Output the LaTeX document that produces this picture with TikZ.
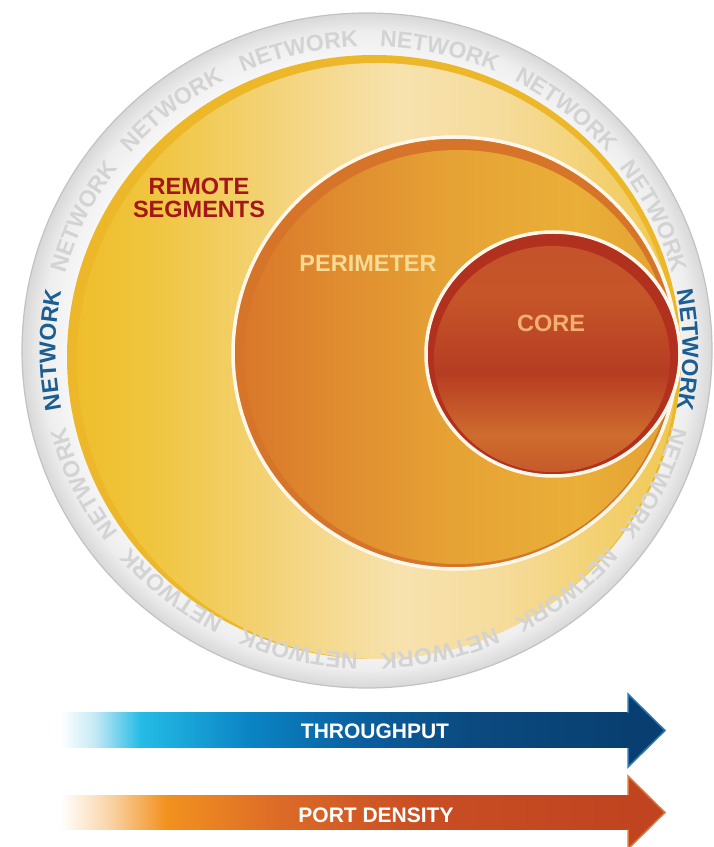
\documentclass[tikz,border=0pt]{standalone}
\usepackage{fontspec}
\setmainfont{Liberation Sans}
\usetikzlibrary{decorations.text}

% palette
\definecolor{ring1}{HTML}{F7F7F7}
\definecolor{ring2}{HTML}{EEEEEE}
\definecolor{ring3}{HTML}{D8D8D8}
\definecolor{ringedge}{HTML}{C2C2C2}
\definecolor{netblue}{HTML}{1C5E92}
\definecolor{netgray}{HTML}{D3D3D3}
\definecolor{remoterim}{HTML}{ECB82A}
\definecolor{rs1}{HTML}{EEBE2C}
\definecolor{rs2}{HTML}{F0C53E}
\definecolor{rs3}{HTML}{F4D684}
\definecolor{rs4}{HTML}{F7E2AE}
\definecolor{rs5}{HTML}{F6DC9C}
\definecolor{rs6}{HTML}{F0C850}
\definecolor{peririm}{HTML}{D6752A}
\definecolor{p1}{HTML}{D9782A}
\definecolor{p2}{HTML}{DF8A2F}
\definecolor{p3}{HTML}{E6A235}
\definecolor{p4}{HTML}{EAAF38}
\definecolor{p5}{HTML}{E4A034}
\definecolor{corerim}{HTML}{B1301E}
\definecolor{c1}{HTML}{C65A2A}
\definecolor{c2}{HTML}{CF6C2E}
\definecolor{c4}{HTML}{B63C22}
\definecolor{c6}{HTML}{C65629}
\definecolor{c7}{HTML}{C4522A}
\definecolor{edgewhite}{HTML}{FFF8EA}
\definecolor{remotered}{HTML}{A3161A}
\definecolor{perimcol}{HTML}{F7DB95}
\definecolor{corecol}{HTML}{F2B070}
\definecolor{tp1}{HTML}{C4E9F5}
\definecolor{tp2}{HTML}{25BCE6}
\definecolor{tp3}{HTML}{0A84C4}
\definecolor{tp4}{HTML}{0A5F9F}
\definecolor{tp5}{HTML}{0B4A80}
\definecolor{tp6}{HTML}{083F70}
\definecolor{tphead}{HTML}{2C7AB6}
\definecolor{pd1}{HTML}{F9D3A6}
\definecolor{pd2}{HTML}{F2921F}
\definecolor{pd3}{HTML}{DC6A27}
\definecolor{pd4}{HTML}{C94E24}
\definecolor{pd5}{HTML}{C0441F}
\definecolor{pdhead}{HTML}{E07A3C}

% shadings (path bounding box spans 25bp..75bp)
\pgfdeclareradialshading{ringshade}{\pgfpointorigin}{color(0bp)=(white); color(21.5bp)=(ring1); color(23.6bp)=(ring2); color(25bp)=(ring3); color(50bp)=(ring3)}
\pgfdeclarehorizontalshading{remoteshade}{100bp}{color(0bp)=(rs1); color(25bp)=(rs1); color(31.1bp)=(rs2); color(43.6bp)=(rs3); color(51.9bp)=(rs4); color(60.25bp)=(rs5); color(75bp)=(rs6); color(100bp)=(rs6)}
\pgfdeclarehorizontalshading{perishade}{100bp}{color(0bp)=(p1); color(25bp)=(p1); color(35bp)=(p2); color(49bp)=(p3); color(64bp)=(p4); color(75bp)=(p5); color(100bp)=(p5)}
\pgfdeclareverticalshading{coreshade}{100bp}{color(0bp)=(c1); color(25bp)=(c1); color(33bp)=(c2); color(47bp)=(c4); color(64bp)=(c6); color(75bp)=(c7); color(100bp)=(c7)}

\newcommand{\netfont}{\fontsize{23}{23}\selectfont\bfseries}
\tikzset{
  zonelabel/.style={font=\fontsize{23.5}{23}\selectfont\bfseries, align=center, inner sep=0pt},
  arrowlabel/.style={font=\fontsize{21}{21}\selectfont\bfseries, text=white, inner sep=0pt},
  whiteedge/.style={draw=edgewhite, line width=3.5pt},
}

\begin{document}
\begin{tikzpicture}[x=1pt,y=1pt]
\useasboundingbox (0,0) rectangle (714,847);
\clip (0,0) rectangle (714,847);

% outer network ring
\shadedraw[shading=ringshade, draw=ringedge, line width=1.2pt]
  (367,496.5) ellipse[x radius=345, y radius=337.5];

% remote segments disc
\fill[remoterim] (374,490) ellipse[x radius=307, y radius=302];
\shade[shading=remoteshade] (377,486) ellipse[x radius=300, y radius=298];

% perimeter disc
\filldraw[fill=peririm, whiteedge] (455,494) ellipse[x radius=222, y radius=216];
\shade[shading=perishade] (458,490) ellipse[x radius=214, y radius=207];

% core disc
\filldraw[fill=corerim, whiteedge] (553,493) ellipse[x radius=127, y radius=122];
\shade[shading=coreshade] (552,488) ellipse[x radius=118, y radius=113];

% zone labels
\node[zonelabel, text=remotered] (remote) at (199,649) {REMOTE\\SEGMENTS};
\node[zonelabel, text=perimcol] (perimeter) at (368,584) {PERIMETER};
\node[zonelabel, text=corecol] (core) at (551,524) {CORE};

% words running clockwise round the ring
\begin{scope}[shift={(369,497)}]
\foreach \ang/\col in {0/netblue, 25.714/netgray, 51.429/netgray, 77.143/netgray,
    102.857/netgray, 128.571/netgray, 154.286/netgray, 180/netblue,
    205.714/netgray, 231.429/netgray, 257.143/netgray, 282.857/netgray,
    308.571/netgray, 334.286/netgray} {
  \pgfmathsetmacro\aA{\ang+14}
  \pgfmathsetmacro\aB{\ang-14}
  \path[decorate, decoration={text along path, text align=center,
      text={|\netfont\color{\col}|NETWORK}}]
    (\aA:313.5 and 303.5) arc[start angle=\aA, end angle=\aB, x radius=313.5, y radius=303.5];
}
\end{scope}

% throughput arrow
\shade[left color=white, right color=tp1] (60,99) rectangle (95.5,134);
\shade[left color=tp1, right color=tp2] (95,99) rectangle (140.5,134);
\shade[left color=tp2, right color=tp3] (140,99) rectangle (250.5,134);
\shade[left color=tp3, right color=tp4] (250,99) rectangle (360.5,134);
\shade[left color=tp4, right color=tp5] (360,99) rectangle (470.5,134);
\shade[left color=tp5, right color=tp6] (470,99) rectangle (629,134);
\fill[tp6] (628,153) -- (665,116.5) -- (628,80) -- cycle;
\draw[tphead, line width=1.5pt, line join=miter]
  (628,134) -- (628,153) -- (665,116.5) -- (628,80) -- (628,99);
\node[arrowlabel] (throughput) at (375,116) {THROUGHPUT};

% port density arrow
\shade[left color=white, right color=pd1] (60,17.5) rectangle (110.5,51.5);
\shade[left color=pd1, right color=pd2] (110,17.5) rectangle (165.5,51.5);
\shade[left color=pd2, right color=pd3] (165,17.5) rectangle (280.5,51.5);
\shade[left color=pd3, right color=pd4] (280,17.5) rectangle (420.5,51.5);
\shade[left color=pd4, right color=pd5] (420,17.5) rectangle (629,51.5);
\fill[pd5] (628,71) -- (665,34.5) -- (628,-2) -- cycle;
\draw[pdhead, line width=1.5pt, line join=miter]
  (628,51.5) -- (628,71) -- (665,34.5) -- (628,-2) -- (628,17.5);
\node[arrowlabel] (portdensity) at (376,32) {PORT DENSITY};
\end{tikzpicture}
\end{document}
